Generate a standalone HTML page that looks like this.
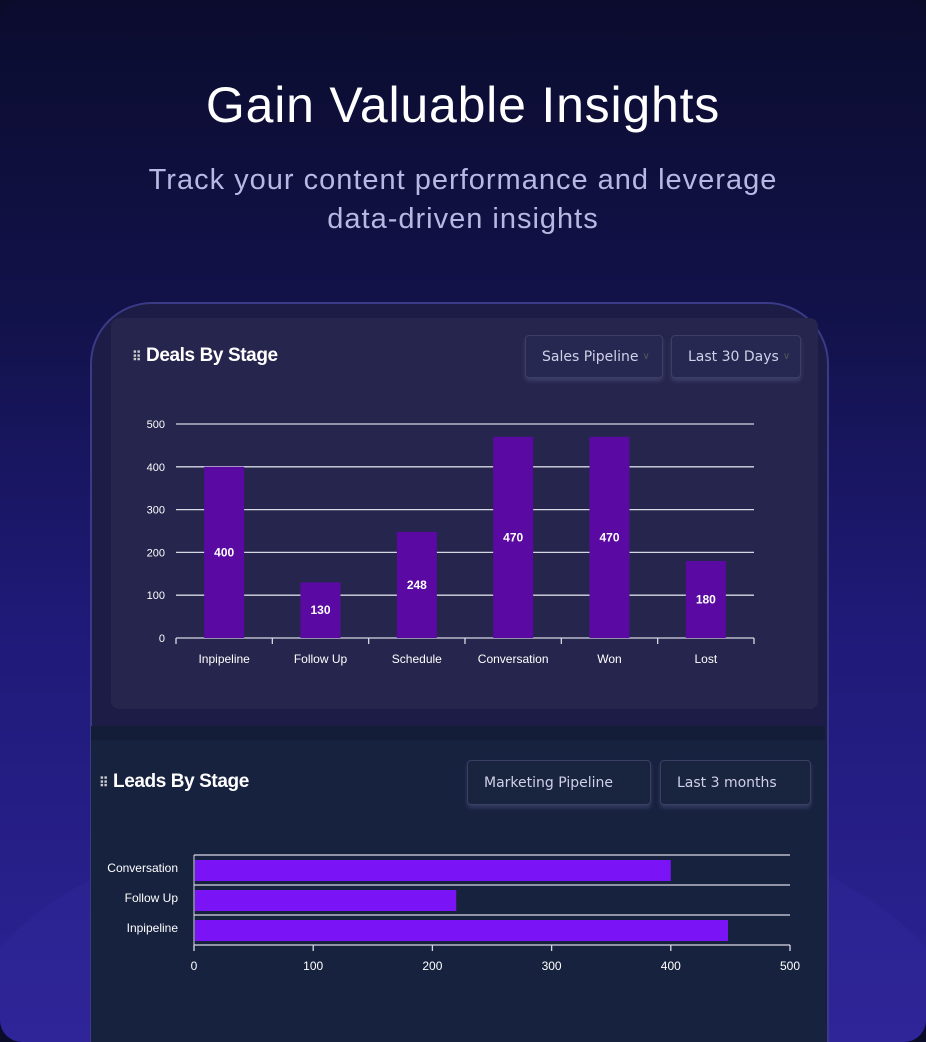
<!DOCTYPE html>
<html><head><meta charset="utf-8">
<style>
*{margin:0;padding:0;box-sizing:border-box}
html,body{width:926px;height:1042px;overflow:hidden}
body{background:#0b0b2a;font-family:"Liberation Sans",sans-serif}
#page{position:absolute;left:0;top:0;width:926px;height:1042px;border-radius:22px;overflow:hidden;
background:linear-gradient(180deg,#0b0c2e 0%,#12124a 30%,#1f1a78 60%,#2c2395 100%)}
.glow{position:absolute;left:-40px;top:800px;width:1006px;height:242px;border-radius:50% 50% 0 0/100% 100% 0 0;background:rgba(60,50,170,0.18)}
h1{position:absolute;top:76px;width:100%;text-align:center;color:#fff;font-size:50px;font-weight:500;letter-spacing:0.8px}
.sub{position:absolute;top:161px;width:100%;text-align:center;color:#b9b8e2;font-size:29px;line-height:39px;letter-spacing:1px}
#device{position:absolute;left:90px;top:302px;width:739px;height:740px;border-radius:62px 62px 0 0;background:#1c1c46;border:2px solid #3a3a86;border-bottom:none}
#card1{position:absolute;left:111px;top:318px;width:707px;height:391px;background:#25254d;border-radius:8px}
#sec2{position:absolute;left:91px;top:726px;width:734px;height:316px;background:#17223f}
#strip{position:absolute;left:91px;top:726px;width:734px;height:14px;background:#141d38}
.title{position:absolute;color:#fff;font-weight:bold;font-size:19px;font-family:"Liberation Sans",sans-serif;letter-spacing:-0.4px}
.dd{position:absolute;border:1px solid #3b3f63;border-radius:4px;color:#d0d0e8;font-size:14px;font-family:"DejaVu Sans",sans-serif;display:flex;align-items:center;padding-left:16px;box-shadow:0 3px 4px rgba(140,140,200,0.25)}
svg{position:absolute;left:0;top:0}
</style></head><body>
<div id="page">
<div class="glow"></div>
<h1>Gain Valuable Insights</h1>
<div class="sub">Track your content performance and leverage<br>data-driven insights</div>
<div id="device"></div>
<div id="card1"></div>
<div id="sec2"></div>
<div id="strip"></div>
<div class="title" style="left:132px;top:345px"><span style="font-size:13px;color:#ccc">⠿</span> Deals By Stage</div>
<div class="dd" style="left:525px;top:335px;width:138px;height:43px;background:#262852">Sales Pipeline <span style="color:#555;font-size:10px;margin-left:4px">∨</span></div>
<div class="dd" style="left:671px;top:335px;width:130px;height:43px;background:#262852">Last 30 Days <span style="color:#555;font-size:10px;margin-left:4px">∨</span></div>
<div class="title" style="left:99px;top:771px"><span style="font-size:13px;color:#ccc">⠿</span> Leads By Stage</div>
<div class="dd" style="left:467px;top:760px;width:184px;height:45px;background:#19243f">Marketing Pipeline</div>
<div class="dd" style="left:660px;top:760px;width:151px;height:45px;background:#19243f">Last 3 months</div>
<svg id="chart" width="926" height="1042"></svg>
</div>
<script>
const dealCats=["Inpipeline","Follow Up","Schedule","Conversation","Won","Lost"];
const dealVals=[400,130,248,470,470,180];
const dealTicks=[0,100,200,300,400,500];
const leadCats=["Conversation","Follow Up","Inpipeline"];
const leadVals=[400,220,448];
const leadTicks=[0,100,200,300,400,500];

const NS="http://www.w3.org/2000/svg",svg=document.getElementById('chart');
function mk(t,a,txt){const e=document.createElementNS(NS,t);for(const k in a)e.setAttribute(k,a[k]);if(txt!==undefined)e.textContent=txt;svg.appendChild(e);return e;}
const x0=176,x1=754,yB=638,yT=424,ymax=500;
const y=v=>yB-(v/ymax)*(yB-yT);
const bw=(x1-x0)/dealCats.length;
dealTicks.forEach(t=>{
 const l=mk('line',{x1:x0,x2:x1,y1:y(t),y2:y(t),stroke:'#d8d8e4','stroke-width':1.3});
 
 
 const tx=mk('text',{x:165,y:y(t)+4,fill:'#fff','font-size':11,'text-anchor':'end'},t);
 
 
});
for(let i=0;i<=dealCats.length;i++){mk('line',{x1:x0+i*bw,x2:x0+i*bw,y1:yB,y2:yB+6,stroke:'#d8d8e4','stroke-width':1.3});}
dealCats.forEach((c,i)=>{
 const cx=x0+bw*(i+0.5),v=dealVals[i];
 const r=mk('rect',{x:cx-20,y:y(v),width:40,height:yB-y(v),fill:'#5a0aa2'});
 
 
 const vl=mk('text',{x:cx,y:(y(v)+yB)/2+4,fill:'#fff','font-size':12,'font-weight':'bold','text-anchor':'middle'},v);
 
 
 const lb=mk('text',{x:cx,y:663,fill:'#fff','font-size':12,'text-anchor':'middle'},c);
 
 
});
const lx0=194,lx1=790,lyT=855,band=30,lmax=500;
const lx=v=>lx0+(v/lmax)*(lx1-lx0);
for(let i=0;i<=leadCats.length;i++){
 const l=mk('line',{x1:lx0,x2:lx1,y1:lyT+i*band,y2:lyT+i*band,stroke:'#d8d8e4','stroke-width':1.3});
 
 
}
mk('line',{x1:lx0,x2:lx0,y1:lyT,y2:lyT+band*leadCats.length,stroke:'#d8d8e4','stroke-width':1});
leadTicks.forEach(t=>{
 mk('line',{x1:lx(t),x2:lx(t),y1:lyT+band*3,y2:lyT+band*3+6,stroke:'#d8d8e4','stroke-width':1.3});
 const tx=mk('text',{x:lx(t),y:970,fill:'#fff','font-size':12,'text-anchor':'middle'},t);
 
 
});
leadCats.forEach((c,i)=>{
 const top=lyT+i*band+5;
 const r=mk('rect',{x:lx0+1,y:top,width:lx(leadVals[i])-lx0-1,height:21,fill:'#7a14f6'});
 
 
 const lb=mk('text',{x:178,y:top+12,fill:'#fff','font-size':12,'text-anchor':'end'},c);
 
 
});
</script>
</body></html>
